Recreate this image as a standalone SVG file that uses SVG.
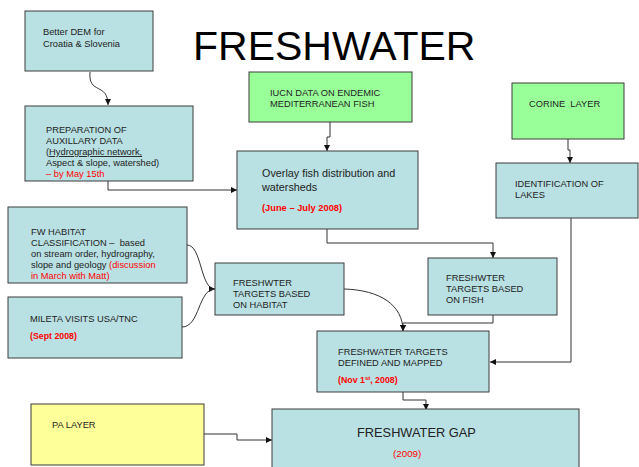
<svg xmlns="http://www.w3.org/2000/svg" width="639" height="467" viewBox="0 0 639 467">
<defs>
<style>
.b{fill:#b9e0e3;stroke:#3c3c3c;stroke-width:1}
.g{fill:#99ff99;stroke:#3c3c3c;stroke-width:1}
.y{fill:#ffff99;stroke:#3c3c3c;stroke-width:1}
text{font-family:"Liberation Sans",Arial,sans-serif;fill:#222;font-size:9.3px;white-space:pre}
.r{fill:#ff0000}
.rb{fill:#ff0000;font-weight:bold}
.c{fill:none;stroke:#333;stroke-width:1}
</style>
<marker id="ah" markerUnits="userSpaceOnUse" markerWidth="7" markerHeight="7" refX="6" refY="3" orient="auto">
<path d="M0,0 L6,3 L0,6 z" fill="#111"/>
</marker>
</defs>
<rect width="639" height="467" fill="#fff"/>
<text x="193" y="60" style="font-size:41px;fill:#000">FRESHWATER</text>

<g id="connectors">
<path class="c" d="M90,72 C88,95 108,82 108,105" marker-end="url(#ah)"/>
<path class="c" d="M108,181 V190 H237" marker-end="url(#ah)"/>
<path class="c" d="M330,122 V137 H327 V151" marker-end="url(#ah)"/>
<path class="c" d="M568,139 V150 H570 V163" marker-end="url(#ah)"/>
<path class="c" d="M571,218 V362 H490" marker-end="url(#ah)"/>
<path class="c" d="M327,229 V243 H493 V258" marker-end="url(#ah)"/>
<path class="c" d="M187,245 C202,245 200,289 215,289" marker-end="url(#ah)"/>
<path class="c" d="M182,327 C200,327 198,289 215,289"/>
<path class="c" d="M344,289 C380,290 403,305 403,331" marker-end="url(#ah)"/>
<path class="c" d="M493,315 V323 H403 V331" marker-end="url(#ah)"/>
<path class="c" d="M403,392 V400 H426 V410" marker-end="url(#ah)"/>
<path class="c" d="M204,434 H237 V440 H272" marker-end="url(#ah)"/>
</g>

<g id="dem">
<rect class="b" x="25" y="11" width="128" height="60"/>
<text x="43" y="35">Better DEM for</text>
<text x="43" y="46.5">Croatia &amp; Slovenia</text>
</g>

<g id="prep">
<rect class="b" x="25" y="106" width="168" height="75"/>
<text x="46" y="132.5">PREPARATION OF</text>
<text x="46" y="144">AUXILLARY DATA</text>
<text x="46" y="155">(<tspan text-decoration="underline">Hydrographic network,</tspan></text>
<text x="46" y="166">Aspect &amp; slope, watershed)</text>
<text x="46" y="177" class="r">– by May 15th</text>
</g>

<g id="iucn">
<rect class="g" x="249" y="72" width="163" height="50"/>
<text x="270" y="95.5">IUCN DATA ON ENDEMIC</text>
<text x="270" y="106.5">MEDITERRANEAN FISH</text>
</g>

<g id="overlay">
<rect class="b" x="237" y="151" width="181" height="78"/>
<text x="262" y="177" style="font-size:10.8px">Overlay fish distribution and</text>
<text x="262" y="190.5" style="font-size:10.8px">watersheds</text>
<text x="262" y="210.5" class="rb">(June – July 2008)</text>
</g>

<g id="corine">
<rect class="g" x="512" y="83" width="112" height="56"/>
<text x="529" y="106.5">CORINE  LAYER</text>
</g>

<g id="lakes">
<rect class="b" x="496" y="163" width="142" height="55"/>
<text x="515" y="186.5">IDENTIFICATION OF</text>
<text x="515" y="197.5">LAKES</text>
</g>

<g id="fwhabitat">
<rect class="b" x="8" y="207" width="179" height="76"/>
<text x="31" y="234.5">FW HABITAT</text>
<text x="31" y="245.5">CLASSIFICATION –  based</text>
<text x="31" y="256.5">on stream order, hydrography,</text>
<text x="31" y="267.5">slope and geology <tspan class="r">(discussion</tspan></text>
<text x="31" y="278.5" class="r">in March with Matt)</text>
</g>

<g id="mileta">
<rect class="b" x="8" y="297" width="174" height="61"/>
<text x="30" y="321.5">MILETA VISITS USA/TNC</text>
<text x="30" y="339" class="rb" style="font-size:8.8px">(Sept 2008)</text>
</g>

<g id="habitat">
<rect class="b" x="215" y="263" width="129" height="52"/>
<text x="233" y="285.5">FRESHWTER</text>
<text x="233" y="296.5">TARGETS BASED</text>
<text x="233" y="307.5">ON HABITAT</text>
</g>

<g id="fish">
<rect class="b" x="428" y="258" width="129" height="57"/>
<text x="446" y="280.5">FRESHWTER</text>
<text x="446" y="291.5">TARGETS BASED</text>
<text x="446" y="302.5">ON FISH</text>
</g>

<g id="mapped">
<rect class="b" x="317" y="331" width="172" height="61"/>
<text x="338" y="354.5">FRESHWATER TARGETS</text>
<text x="338" y="365.5">DEFINED AND MAPPED</text>
<text x="338" y="382.5" class="rb" style="font-size:8.8px">(Nov 1<tspan dy="-3" style="font-size:6px">st</tspan><tspan dy="3">, 2008)</tspan></text>
</g>

<g id="pa">
<rect class="y" x="31" y="404" width="173" height="61"/>
<text x="52" y="428">PA LAYER</text>
</g>

<g id="gap">
<rect class="b" x="272" y="409" width="307" height="62"/>
<text x="357" y="436.5" style="font-size:12.8px">FRESHWATER GAP</text>
<text x="393" y="456.5" class="r" style="font-size:9.8px">(2009)</text>
</g>
</svg>
